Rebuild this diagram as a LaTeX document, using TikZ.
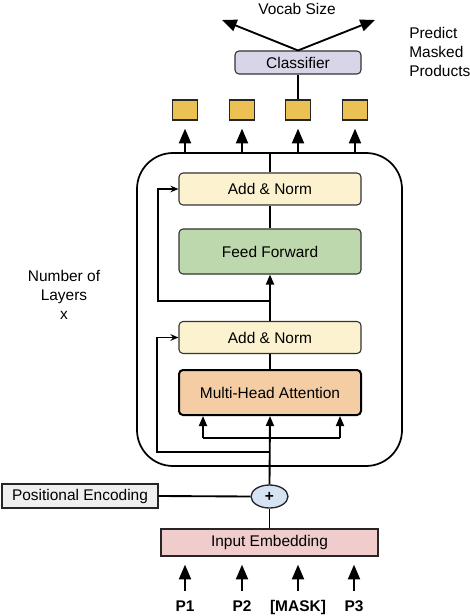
\documentclass[tikz,border=0pt]{standalone}
\usepackage{fontspec}
\setmainfont{Liberation Sans}
\usetikzlibrary{arrows.meta,shapes.geometric}

\definecolor{normfill}{HTML}{FDF2D0}
\definecolor{fffill}{HTML}{BED8AE}
\definecolor{mhafill}{HTML}{F4CDA4}
\definecolor{clsfill}{HTML}{D9D5E8}
\definecolor{outfill}{HTML}{EBC154}
\definecolor{plusfill}{HTML}{D6E3F2}
\definecolor{embfill}{HTML}{F0CCCC}
\definecolor{posfill}{HTML}{EFEFEF}

\tikzset{
  every node/.style={font=\fontsize{11.6}{14.25}\selectfont},
  blk/.style={draw=black!80, line width=0.8pt, rounded corners=3pt, inner sep=0pt,
    minimum width=136.5pt, minimum height=24pt},
  flat/.style={draw=black!85, line width=1pt, inner sep=0pt},
  outsq/.style={flat, fill=outfill, minimum width=18.75pt, minimum height=15pt},
  wire/.style={line width=1.4pt},
  bigtip/.style={wire, -{Triangle[length=11pt,width=9pt]}},
  smalltip/.style={wire, -{Triangle[length=7.5pt,width=6pt]}},
  restip/.style={line width=1.1pt, -{Stealth[length=6pt,width=5pt,open]}},
  tok/.style={font=\fontsize{11.6}{14.25}\selectfont\bfseries, anchor=base,
    inner sep=2pt, text height=9pt, text depth=0pt}
}

\begin{document}
\begin{tikzpicture}[x=0.75pt,y=-0.75pt]
\useasboundingbox (0,0) rectangle (470,616);

% encoder stack
\node[draw, line width=1.3pt, rounded corners=27pt, minimum width=198.75pt,
  minimum height=234.75pt] (enc) at (269.5,309.5) {};

\node[blk, fill=normfill] (an1) at (270,189) {Add \& Norm};
\node[blk, fill=fffill, minimum height=33.75pt] (ff) at (270,251.5) {Feed Forward};
\node[blk, fill=normfill] (an2) at (270,337.5) {Add \& Norm};
\node[blk, fill=mhafill, draw=black, line width=1.5pt, minimum height=33.75pt] (mha) at (270,392.5) {Multi-Head Attention};

\node[align=center] (nlay) at (64,295) {Number of\\Layers\\x};

% input side
\node[flat, fill=posfill, minimum width=117pt, minimum height=18pt] (pe) at (80,496) {Positional Encoding};
\node[ellipse, draw=black!85, line width=1pt, fill=plusfill, inner sep=0pt,
  minimum width=27.75pt, minimum height=17.25pt] (plus) at (269.5,496.5) {\textbf{+}};
\node[flat, fill=embfill, minimum width=162.75pt, minimum height=20.25pt] (ie) at (269.5,542.5) {Input Embedding};

\node[tok] (p1) at (185,611) {P1};
\node[tok] (p2) at (242,611) {P2};
\node[tok] (pm) at (298,611) {[MASK]};
\node[tok] (p3) at (354,611) {P3};

% output side
\node[outsq] (sq1) at (185,110) {};
\node[outsq] (sq2) at (242,110) {};
\node[outsq] (sq3) at (298,110) {};
\node[outsq] (sq4) at (355,110) {};

\node[blk, fill=clsfill, minimum width=94.5pt, minimum height=17.25pt] (cls) at (298,62.5) {Classifier};
\node (voc) at (297,9) {Vocab Size};
\node[align=left, anchor=west, inner sep=0pt] (pred) at (409,52) {Predict\\Masked\\Products};

\coordinate (vl) at (222,20);
\coordinate (vr) at (375,20);
\coordinate (ma) at (203,438);
\coordinate (mb) at (340,438);

% connectors
\draw[bigtip] (cls.north) -- (vl);
\draw[bigtip] (cls.north) -- (vr);
\draw[wire] (cls.south) -- (sq3.north);

\foreach \s in {sq1,sq2,sq3,sq4}
  \draw[bigtip, shorten >=6pt] (enc.north -| \s) -- (\s.south);

\draw[wire] (an1.north) -- (an1.north |- enc.north);
\draw[wire] (ff.north) -- (an1.south);
\draw[smalltip] (an2.north) -- (ff.south);
\draw[restip] (270,301) -- (158,301) |- (an1.west);

\draw[wire] (mha.north) -- (an2.south);
\draw[smalltip] (plus.north) -- (mha.south);
\draw[wire] (ma) -- (mb);
\draw[smalltip] (ma) -- (ma |- mha.south);
\draw[smalltip] (mb) -- (mb |- mha.south);
\draw[restip] (270,452) -- (157,452) |- (an2.west);

\draw[wire] (pe.east) -- (plus.west);
\draw[wire] (ie.north) -- (plus.south);

\foreach \p in {p1,p2,pm,p3}
  \draw[bigtip, shorten <=4pt, shorten >=6pt] (\p.north) -- (\p.north |- ie.south);
\end{tikzpicture}
\end{document}
